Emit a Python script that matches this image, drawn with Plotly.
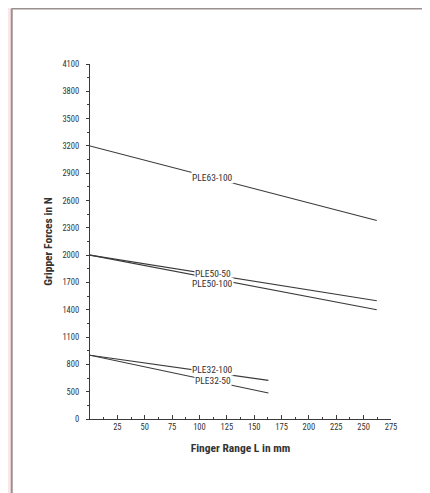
import plotly.graph_objects as go

# Data
series_names = ["PLE63-100", "PLE50-50", "PLE50-100", "PLE32-100", "PLE32-50"]
x_start = [0, 0, 0, 0, 0]
x_end = [262, 262, 262, 163, 163]
f_start = [3200, 2000, 2000, 900, 900]
f_end = [2380, 1500, 1400, 624, 486]

# label positions (data coordinates)
label_x = [112, 112, 112, 112, 112]
label_y = [2855, 1797, 1687, 742, 624]

x_ticks = [25, 50, 75, 100, 125, 150, 175, 200, 225, 250, 275]
# the axis has an equally spaced break at the bottom: "0" sits one step below 500
y_tickvals = [200, 500, 800, 1100, 1400, 1700, 2000, 2300, 2600, 2900, 3200, 3500, 3800, 4100]
y_ticktext = ["0", "500", "800", "1100", "1400", "1700", "2000", "2300", "2600", "2900",
              "3200", "3500", "3800", "4100"]

FONT = "Liberation Sans Narrow, Roboto Condensed, Liberation Sans, Arial, sans-serif"
LINE = "#3a3a3a"
BORDER = "#9a9090"

fig = go.Figure()
for i, name in enumerate(series_names):
    fig.add_trace(go.Scatter(
        x=[x_start[i], x_end[i]], y=[f_start[i], f_end[i]],
        mode="lines", line=dict(color=LINE, width=1.1),
        name=name, showlegend=False, hoverinfo="skip"))

for i, name in enumerate(series_names):
    fig.add_annotation(x=label_x[i], y=label_y[i], text=name, showarrow=False,
                       font=dict(family=FONT, size=9.5, color="#333"),
                       bgcolor="white", borderpad=0)

# white panel over pink background; only its left and top edges are visible
fig.add_shape(type="rect", xref="paper", yref="paper",
              x0=-0.26, x1=1.6, y0=-0.6, y1=1.156,
              fillcolor="white", line=dict(width=0), layer="below")
fig.add_shape(type="line", xref="paper", yref="paper",
              x0=-0.26, x1=1.6, y0=1.156, y1=1.156,
              line=dict(color=BORDER, width=2), layer="below")
fig.add_shape(type="line", xref="paper", yref="paper",
              x0=-0.26, x1=-0.26, y0=-0.6, y1=1.156,
              line=dict(color=BORDER, width=2), layer="below")

fig.update_layout(
    width=430, height=493,
    margin=dict(l=81.5, r=46.5, t=56, b=81.7),
    paper_bgcolor="#fde5e8", plot_bgcolor="white",
    font=dict(family=FONT, color="#333"),
    xaxis=dict(range=[0, 275], tickvals=x_ticks, showgrid=False, zeroline=False,
               showline=True, linecolor=LINE, linewidth=1.2,
               ticks="inside", ticklen=4, tickcolor=LINE, tickwidth=1,
               tickfont=dict(size=8.5, family=FONT, color="#333"),
               minor=dict(ticks="inside", ticklen=2, tickcolor=LINE, dtick=12.5, tick0=0, showgrid=False),
               title=dict(text="<b>Finger Range L in mm</b>", standoff=12,
                          font=dict(size=11.5, family=FONT, color="#333"))),
    yaxis=dict(range=[200, 4100], tickvals=y_tickvals, ticktext=y_ticktext,
               showgrid=False, zeroline=False,
               showline=True, linecolor=LINE, linewidth=1.2,
               ticks="outside", ticklen=3, tickcolor=LINE, tickwidth=1,
               ticklabelstandoff=5,
               tickfont=dict(size=8.5, family=FONT, color="#333"),
               minor=dict(ticks="outside", ticklen=2, tickcolor=LINE, dtick=150, tick0=200, showgrid=False),
               title=dict(text="<b>Gripper Forces in N</b>", standoff=7,
                          font=dict(size=11.5, family=FONT, color="#333"))),
)

fig.write_html("out.html")
